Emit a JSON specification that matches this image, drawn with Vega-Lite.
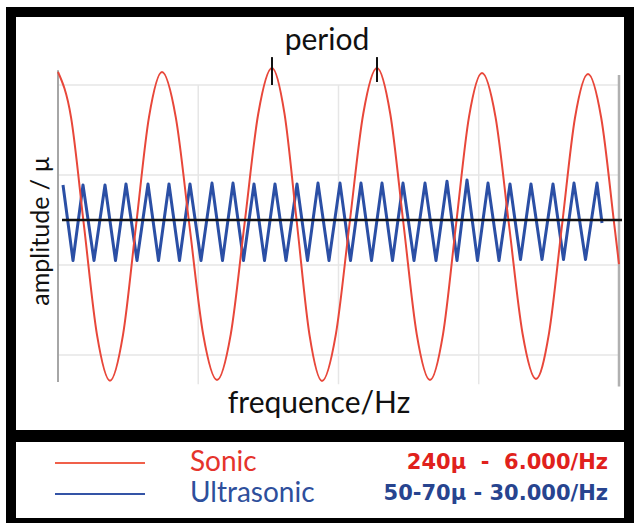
{
  "$schema": "https://vega.github.io/schema/vega-lite/v6.json",
  "width": 618,
  "height": 511,
  "autosize": "none",
  "padding": {"left": 11, "top": 12, "right": 5, "bottom": 0},
  "background": "white",
  "config": {"view": {"stroke": "black", "strokeWidth": 10, "fill": "white"}},
  "datasets": {
    "sonic": [
      {"x": 0, "y": 3.289}, {"x": 0.0927, "y": 2.287}, {"x": 0.1854, "y": -0.133}, {"x": 0.2781, "y": -2.553},
      {"x": 0.3708, "y": -3.57}, {"x": 0.4635, "y": -2.553}, {"x": 0.5561, "y": -0.133}, {"x": 0.6488, "y": 2.287},
      {"x": 0.7415, "y": 3.289}, {"x": 0.8396, "y": 2.287}, {"x": 0.9376, "y": -0.133}, {"x": 1.0357, "y": -2.553},
      {"x": 1.1337, "y": -3.556}, {"x": 1.2317, "y": -2.54}, {"x": 1.3298, "y": -0.089}, {"x": 1.4278, "y": 2.362},
      {"x": 1.5258, "y": 3.378}, {"x": 1.615, "y": 2.362}, {"x": 1.7041, "y": -0.089}, {"x": 1.7932, "y": -2.553},
      {"x": 1.8824, "y": -3.578}, {"x": 1.9804, "y": -2.553}, {"x": 2.0784, "y": -0.089}, {"x": 2.1765, "y": 2.362},
      {"x": 2.2745, "y": 3.378}, {"x": 2.369, "y": 2.362}, {"x": 2.4635, "y": -0.089}, {"x": 2.5579, "y": -2.54},
      {"x": 2.6524, "y": -3.556}, {"x": 2.7451, "y": -2.54}, {"x": 2.8378, "y": -0.111}, {"x": 2.9305, "y": 2.293},
      {"x": 3.0232, "y": 3.267}, {"x": 3.1194, "y": 2.293}, {"x": 3.2157, "y": -0.111}, {"x": 3.3119, "y": -2.516},
      {"x": 3.4082, "y": -3.533}, {"x": 3.5009, "y": -2.518}, {"x": 3.5936, "y": -0.122}, {"x": 3.6863, "y": 2.273},
      {"x": 3.779, "y": 3.244}, {"x": 3.8734, "y": 2.267}, {"x": 3.9679, "y": -0.144}, {"x": 4.0, "y": -0.98}
    ],
    "ultrasonic": [
      {"x": 0.0357, "y": 0.778}, {"x": 0.107, "y": -0.9}, {"x": 0.1783, "y": 0.778}, {"x": 0.2567, "y": -0.9},
      {"x": 0.3351, "y": 0.778}, {"x": 0.41, "y": -0.9}, {"x": 0.4848, "y": 0.8}, {"x": 0.5633, "y": -0.9},
      {"x": 0.6417, "y": 0.8}, {"x": 0.7166, "y": -0.9}, {"x": 0.7914, "y": 0.8}, {"x": 0.8663, "y": -0.9},
      {"x": 0.9412, "y": 0.8}, {"x": 1.0196, "y": -0.9}, {"x": 1.098, "y": 0.82}, {"x": 1.1729, "y": -0.9},
      {"x": 1.2478, "y": 0.82}, {"x": 1.3226, "y": -0.9}, {"x": 1.3975, "y": 0.8}, {"x": 1.4724, "y": -0.9},
      {"x": 1.5472, "y": 0.8}, {"x": 1.6257, "y": -0.9}, {"x": 1.7041, "y": 0.8}, {"x": 1.779, "y": -0.9},
      {"x": 1.8538, "y": 0.82}, {"x": 1.9323, "y": -0.9}, {"x": 2.0107, "y": 0.82}, {"x": 2.0856, "y": -0.9},
      {"x": 2.1604, "y": 0.82}, {"x": 2.2353, "y": -0.9}, {"x": 2.3102, "y": 0.82}, {"x": 2.385, "y": -0.9},
      {"x": 2.4599, "y": 0.82}, {"x": 2.5383, "y": -0.9}, {"x": 2.6168, "y": 0.82}, {"x": 2.6952, "y": -0.9},
      {"x": 2.7736, "y": 0.86}, {"x": 2.8449, "y": -0.9}, {"x": 2.9162, "y": 0.89}, {"x": 2.9911, "y": -0.9},
      {"x": 3.066, "y": 0.82}, {"x": 3.1444, "y": -0.9}, {"x": 3.2228, "y": 0.8}, {"x": 3.2977, "y": -0.88},
      {"x": 3.3725, "y": 0.8}, {"x": 3.451, "y": -0.88}, {"x": 3.5294, "y": 0.8}, {"x": 3.6043, "y": -0.88},
      {"x": 3.6791, "y": 0.82}, {"x": 3.7611, "y": -0.88}, {"x": 3.8431, "y": 0.82}, {"x": 3.8788, "y": -0.067}
    ],
    "hgrid": [{"y": 3}, {"y": 1}, {"y": -1}, {"y": -3}],
    "vgrid": [{"x": 1}, {"x": 2}, {"x": 3}],
    "legend": [
      {"series": "Sonic", "range": "240µ\u00a0\u00a0-\u00a0\u00a06.000/Hz", "y": -5.4},
      {"series": "Ultrasonic", "range": "50-70µ - 30.000/Hz", "y": -6.089}
    ],
    "period": [{"x": 1.5258, "top": 3.62, "bottom": 3.0}, {"x": 2.2745, "top": 3.62, "bottom": 3.067}]
  },
  "layer": [
    {
      "data": {"name": "hgrid"},
      "mark": {"type": "rule", "color": "#e6e6e6", "strokeWidth": 1.5},
      "encoding": {
        "x": {"datum": 0, "type": "quantitative", "scale": {"domain": [-0.3351, 4.0713], "nice": false, "zero": false}, "axis": null},
        "x2": {"datum": 4},
        "y": {"field": "y", "type": "quantitative", "scale": {"domain": [-6.7333, 4.6222], "nice": false, "zero": false}, "axis": null}
      }
    },
    {
      "data": {"name": "vgrid"},
      "mark": {"type": "rule", "color": "#e6e6e6", "strokeWidth": 1.5},
      "encoding": {
        "x": {"field": "x", "type": "quantitative", "scale": {"domain": [-0.3351, 4.0713], "nice": false, "zero": false}, "axis": null},
        "y": {"datum": 3.0, "type": "quantitative", "scale": {"domain": [-6.7333, 4.6222], "nice": false, "zero": false}, "axis": null},
        "y2": {"datum": -3.65}
      }
    },
    {
      "data": {"values": [{"side": "left"}]},
      "mark": {"type": "rule", "color": "#a6a6a6", "strokeWidth": 2},
      "encoding": {
        "x": {"datum": 0, "type": "quantitative", "scale": {"domain": [-0.3351, 4.0713], "nice": false, "zero": false}, "axis": null},
        "y": {"datum": 3.33, "type": "quantitative", "scale": {"domain": [-6.7333, 4.6222], "nice": false, "zero": false}, "axis": null},
        "y2": {"datum": -3.6}
      }
    },
    {
      "data": {"values": [{"side": "right"}]},
      "mark": {"type": "rule", "color": "#b0b0b0", "strokeWidth": 2.5},
      "encoding": {
        "x": {"datum": 4, "type": "quantitative", "scale": {"domain": [-0.3351, 4.0713], "nice": false, "zero": false}, "axis": null},
        "y": {"datum": 3.22, "type": "quantitative", "scale": {"domain": [-6.7333, 4.6222], "nice": false, "zero": false}, "axis": null},
        "y2": {"datum": -3.7}
      }
    },
    {
      "data": {"name": "ultrasonic"},
      "mark": {"type": "line", "color": "#2b4fa5", "strokeWidth": 3, "strokeJoin": "round"},
      "encoding": {
        "x": {"field": "x", "type": "quantitative", "scale": {"domain": [-0.3351, 4.0713], "nice": false, "zero": false}, "axis": null},
        "y": {"field": "y", "type": "quantitative", "scale": {"domain": [-6.7333, 4.6222], "nice": false, "zero": false}, "axis": null},
        "order": {"field": "x"}
      }
    },
    {
      "data": {"name": "sonic"},
      "mark": {"type": "line", "color": "#e8473a", "strokeWidth": 2, "interpolate": "monotone"},
      "encoding": {
        "x": {"field": "x", "type": "quantitative", "scale": {"domain": [-0.3351, 4.0713], "nice": false, "zero": false}, "axis": null},
        "y": {"field": "y", "type": "quantitative", "scale": {"domain": [-6.7333, 4.6222], "nice": false, "zero": false}, "axis": null},
        "order": {"field": "x"}
      }
    },
    {
      "data": {"values": [{"y": 0}]},
      "mark": {"type": "rule", "color": "#111111", "strokeWidth": 2.5},
      "encoding": {
        "x": {"datum": 0.0285, "type": "quantitative", "scale": {"domain": [-0.3351, 4.0713], "nice": false, "zero": false}, "axis": null},
        "x2": {"datum": 4.0214},
        "y": {"field": "y", "type": "quantitative", "scale": {"domain": [-6.7333, 4.6222], "nice": false, "zero": false}, "axis": null}
      }
    },
    {
      "data": {"name": "period"},
      "mark": {"type": "rule", "color": "#111111", "strokeWidth": 2},
      "encoding": {
        "x": {"field": "x", "type": "quantitative", "scale": {"domain": [-0.3351, 4.0713], "nice": false, "zero": false}, "axis": null},
        "y": {"field": "top", "type": "quantitative", "scale": {"domain": [-6.7333, 4.6222], "nice": false, "zero": false}, "axis": null},
        "y2": {"field": "bottom"}
      }
    },
    {
      "data": {"values": [{"label": "period", "x": 1.918, "y": 3.778}]},
      "mark": {"type": "text", "font": "Lato", "fontSize": 30, "color": "#111111", "align": "center", "baseline": "alphabetic"},
      "encoding": {
        "x": {"field": "x", "type": "quantitative", "scale": {"domain": [-0.3351, 4.0713], "nice": false, "zero": false}, "axis": null},
        "y": {"field": "y", "type": "quantitative", "scale": {"domain": [-6.7333, 4.6222], "nice": false, "zero": false}, "axis": null},
        "text": {"field": "label"}
      }
    },
    {
      "data": {"values": [{"label": "frequence/Hz", "x": 1.861, "y": -4.289}]},
      "mark": {"type": "text", "font": "Lato", "fontSize": 30, "color": "#111111", "align": "center", "baseline": "alphabetic"},
      "encoding": {
        "x": {"field": "x", "type": "quantitative", "scale": {"domain": [-0.3351, 4.0713], "nice": false, "zero": false}, "axis": null},
        "y": {"field": "y", "type": "quantitative", "scale": {"domain": [-6.7333, 4.6222], "nice": false, "zero": false}, "axis": null},
        "text": {"field": "label"}
      }
    },
    {
      "data": {"values": [{"label": "amplitude / µ", "x": -0.1212, "y": -0.244}]},
      "mark": {"type": "text", "font": "Lato", "fontSize": 25, "color": "#111111", "align": "center", "baseline": "middle", "angle": 270},
      "encoding": {
        "x": {"field": "x", "type": "quantitative", "scale": {"domain": [-0.3351, 4.0713], "nice": false, "zero": false}, "axis": null},
        "y": {"field": "y", "type": "quantitative", "scale": {"domain": [-6.7333, 4.6222], "nice": false, "zero": false}, "axis": null},
        "text": {"field": "label"}
      }
    },
    {
      "data": {"values": [{"part": "separator", "y": -4.8}]},
      "mark": {"type": "rule", "color": "black", "strokeWidth": 12},
      "encoding": {
        "y": {"field": "y", "type": "quantitative", "scale": {"domain": [-6.7333, 4.6222], "nice": false, "zero": false}, "axis": null}
      }
    },
    {
      "data": {"name": "legend"},
      "transform": [{"filter": "datum.series === 'Sonic'"}],
      "layer": [
        {
          "mark": {"type": "rule", "color": "#f0604a", "strokeWidth": 2},
          "encoding": {
            "x": {"datum": -0.0214, "type": "quantitative", "scale": {"domain": [-0.3351, 4.0713], "nice": false, "zero": false}, "axis": null},
            "x2": {"datum": 0.6203},
            "y": {"field": "y", "type": "quantitative", "scale": {"domain": [-6.7333, 4.6222], "nice": false, "zero": false}, "axis": null}
          }
        },
        {
          "mark": {"type": "text", "font": "Lato", "fontSize": 28, "color": "#e5342b", "align": "left", "baseline": "middle"},
          "encoding": {
            "x": {"datum": 0.941, "type": "quantitative", "scale": {"domain": [-0.3351, 4.0713], "nice": false, "zero": false}, "axis": null},
            "y": {"field": "y", "type": "quantitative", "scale": {"domain": [-6.7333, 4.6222], "nice": false, "zero": false}, "axis": null},
            "text": {"field": "series"}
          }
        },
        {
          "mark": {"type": "text", "font": "DejaVu Sans", "fontWeight": "bold", "fontSize": 21, "color": "#e0211c", "align": "right", "baseline": "middle"},
          "encoding": {
            "x": {"datum": 3.9216, "type": "quantitative", "scale": {"domain": [-0.3351, 4.0713], "nice": false, "zero": false}, "axis": null},
            "y": {"field": "y", "type": "quantitative", "scale": {"domain": [-6.7333, 4.6222], "nice": false, "zero": false}, "axis": null},
            "text": {"field": "range"}
          }
        }
      ]
    },
    {
      "data": {"name": "legend"},
      "transform": [{"filter": "datum.series === 'Ultrasonic'"}],
      "layer": [
        {
          "mark": {"type": "rule", "color": "#3454a6", "strokeWidth": 2},
          "encoding": {
            "x": {"datum": -0.0214, "type": "quantitative", "scale": {"domain": [-0.3351, 4.0713], "nice": false, "zero": false}, "axis": null},
            "x2": {"datum": 0.6203},
            "y": {"field": "y", "type": "quantitative", "scale": {"domain": [-6.7333, 4.6222], "nice": false, "zero": false}, "axis": null}
          }
        },
        {
          "mark": {"type": "text", "font": "Lato", "fontSize": 28, "color": "#2e4f9c", "align": "left", "baseline": "middle"},
          "encoding": {
            "x": {"datum": 0.941, "type": "quantitative", "scale": {"domain": [-0.3351, 4.0713], "nice": false, "zero": false}, "axis": null},
            "y": {"field": "y", "type": "quantitative", "scale": {"domain": [-6.7333, 4.6222], "nice": false, "zero": false}, "axis": null},
            "text": {"field": "series"}
          }
        },
        {
          "mark": {"type": "text", "font": "DejaVu Sans", "fontWeight": "bold", "fontSize": 21, "color": "#27448f", "align": "right", "baseline": "middle"},
          "encoding": {
            "x": {"datum": 3.9216, "type": "quantitative", "scale": {"domain": [-0.3351, 4.0713], "nice": false, "zero": false}, "axis": null},
            "y": {"field": "y", "type": "quantitative", "scale": {"domain": [-6.7333, 4.6222], "nice": false, "zero": false}, "axis": null},
            "text": {"field": "range"}
          }
        }
      ]
    }
  ]
}
